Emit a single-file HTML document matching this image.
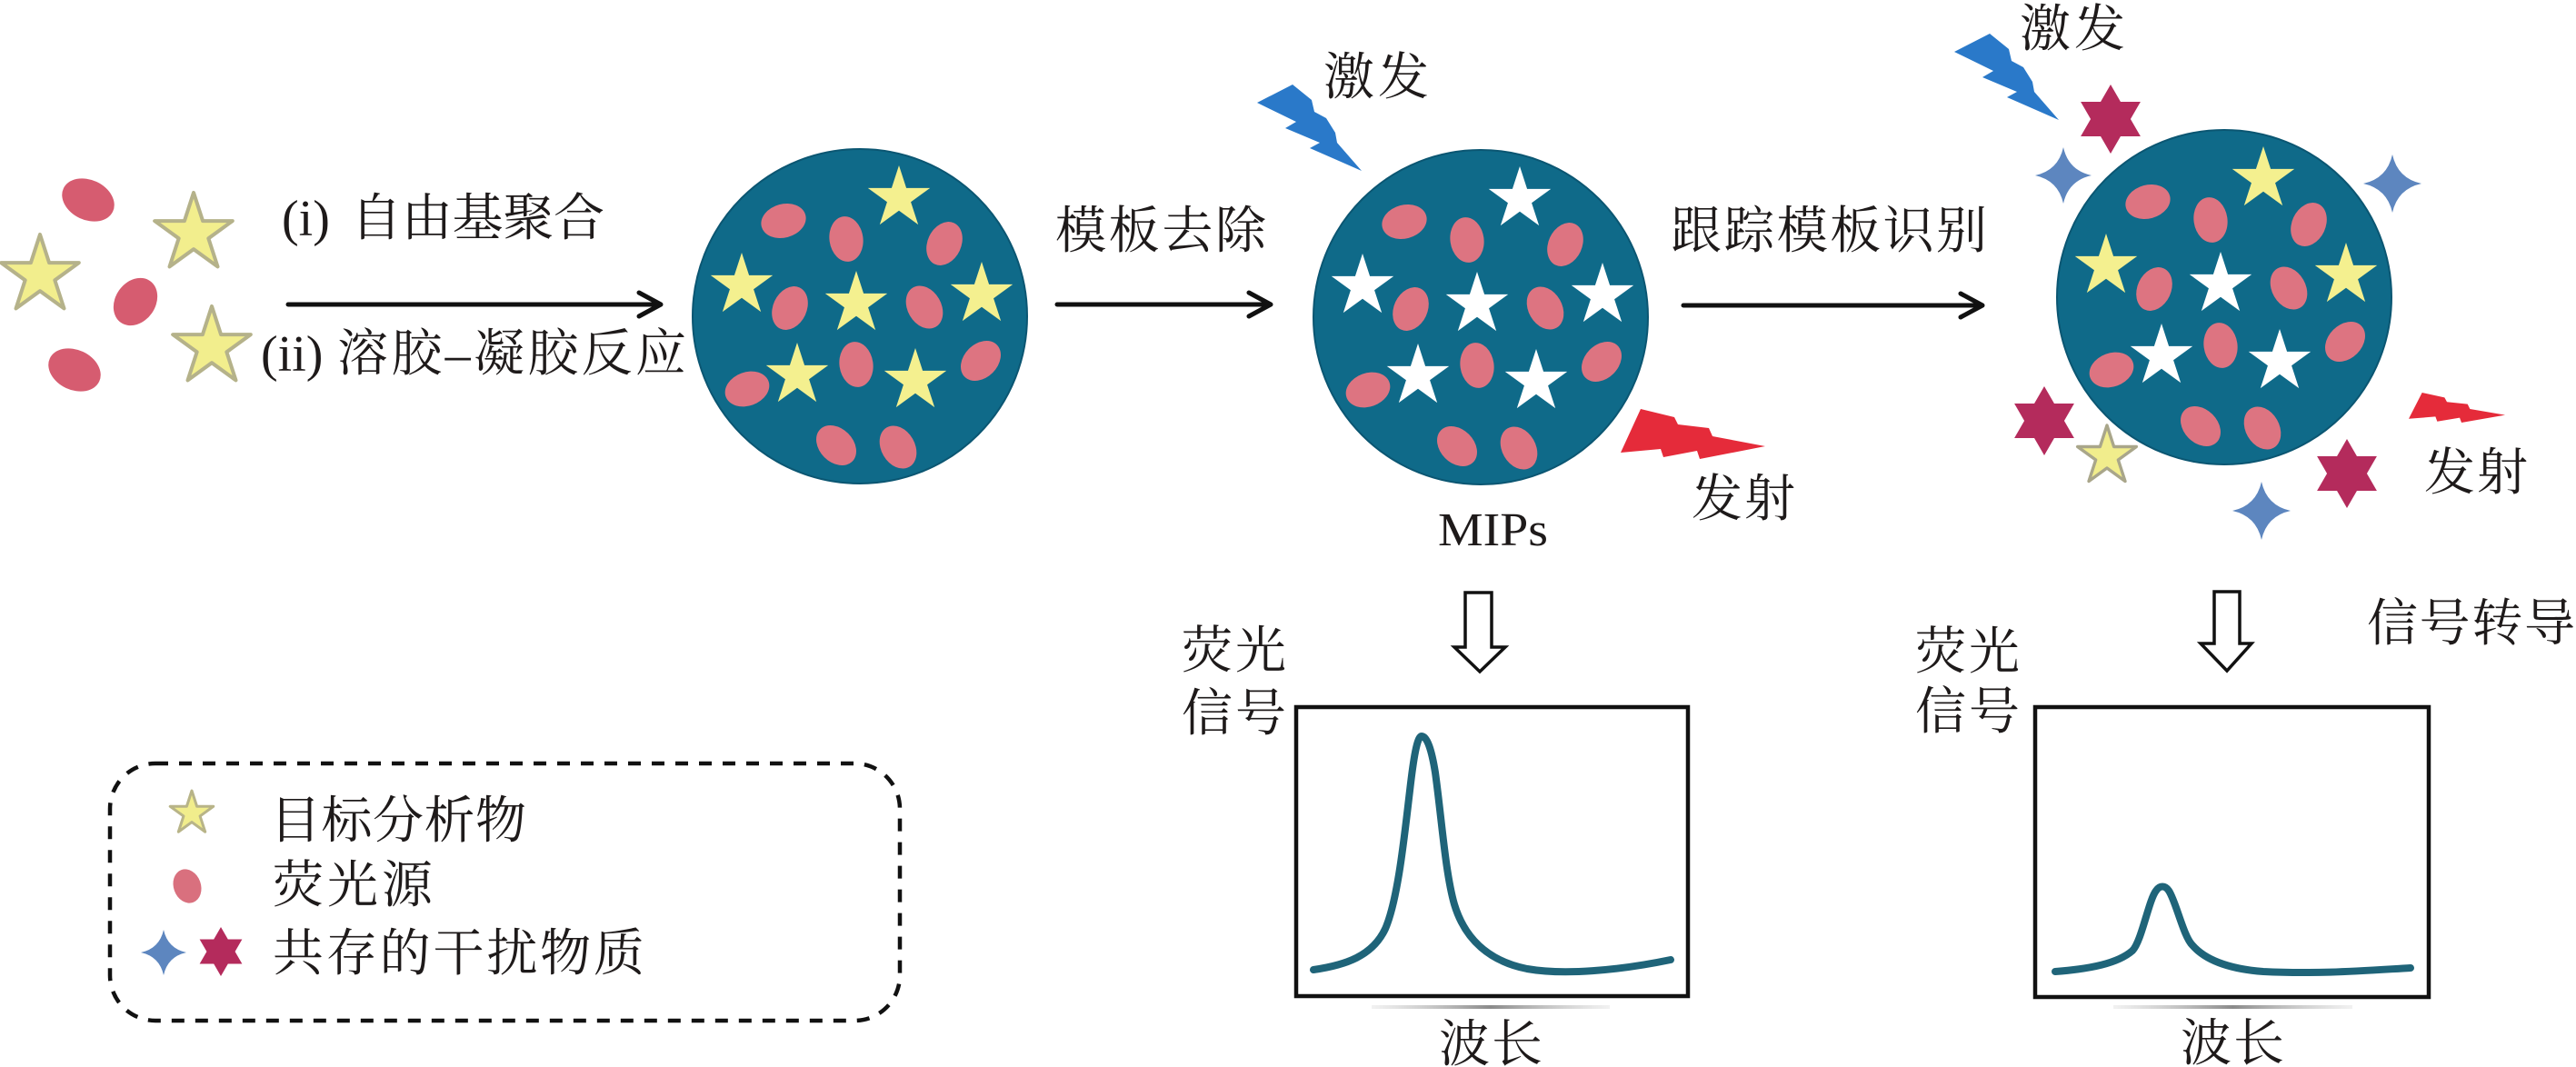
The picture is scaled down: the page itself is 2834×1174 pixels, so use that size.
<!DOCTYPE html>
<html>
<head>
<meta charset="utf-8">
<style>
  html, body { margin: 0; padding: 0; background: #ffffff; }
  body { width: 2834px; height: 1174px; overflow: hidden; }
  svg { display: block; }
  .t { font-family: "Liberation Serif", "Noto Serif CJK SC", serif; font-size: 56px; fill: #1e1a1a; }
</style>
</head>
<body>
<svg width="2834" height="1174" viewBox="0 0 2834 1174" xmlns="http://www.w3.org/2000/svg">
  <defs>
    <polygon id="st" points="0,-1 0.2245,-0.309 0.951,-0.309 0.363,0.118 0.588,0.809 0,0.382 -0.588,0.809 -0.363,0.118 -0.951,-0.309 -0.2245,-0.309"/>
    <polygon id="hx" points="0,-1 0.2887,-0.5 0.866,-0.5 0.577,0 0.866,0.5 0.2887,0.5 0,1 -0.2887,0.5 -0.866,0.5 -0.577,0 -0.866,-0.5 -0.2887,-0.5"/>
    <path id="dm" d="M0,-1 Q0.18,-0.18 1,0 Q0.18,0.18 0,1 Q-0.18,0.18 -1,0 Q-0.18,-0.18 0,-1Z"/>
    <g id="ells" fill="#dd7481">
      <ellipse cx="862" cy="243" rx="18.5" ry="25" transform="rotate(75 862 243)"/>
      <ellipse cx="931" cy="263" rx="18.5" ry="25" transform="rotate(-8 931 263)"/>
      <ellipse cx="1039" cy="268" rx="18.5" ry="25" transform="rotate(25 1039 268)"/>
      <ellipse cx="869" cy="339" rx="18.5" ry="25" transform="rotate(25 869 339)"/>
      <ellipse cx="1017" cy="338" rx="18.5" ry="25" transform="rotate(-30 1017 338)"/>
      <ellipse cx="942" cy="401" rx="18.5" ry="25" transform="rotate(-8 942 401)"/>
      <ellipse cx="1079" cy="397" rx="18.5" ry="25" transform="rotate(45 1079 397)"/>
      <ellipse cx="822" cy="428" rx="18.5" ry="25" transform="rotate(70 822 428)"/>
      <ellipse cx="920" cy="490" rx="18.5" ry="25" transform="rotate(-45 920 490)"/>
      <ellipse cx="988" cy="492" rx="18.5" ry="25" transform="rotate(-30 988 492)"/>
    </g>
    <polygon id="bbolt" points="1383,113 1422,93 1443,110 1446,123 1459,130 1469,146 1471,157 1498,188 1441,163 1452,157 1414,141 1426,134"/>
    <polygon id="rbolt" points="1783,498 1805,450 1842,459 1846,467 1880,471 1884,480 1942,491 1870,505 1867,496 1830,503 1827,494"/>
    <linearGradient id="gl" x1="0" y1="0" x2="1" y2="0">
      <stop offset="0" stop-color="#bbbbbb" stop-opacity="0.2"/>
      <stop offset="0.5" stop-color="#8a8a8a" stop-opacity="1"/>
      <stop offset="1" stop-color="#bbbbbb" stop-opacity="0.2"/>
    </linearGradient>
  </defs>

  <!-- Left loose items -->
  <g fill="#d65c70">
    <ellipse cx="97" cy="220" rx="22" ry="30" transform="rotate(-65 97 220)"/>
    <ellipse cx="149" cy="332" rx="22" ry="28" transform="rotate(35 149 332)"/>
    <ellipse cx="82" cy="407" rx="22" ry="30" transform="rotate(-65 82 407)"/>
  </g>
  <g fill="#f2ee8d" stroke="#b5b28a" stroke-width="0.09" stroke-linejoin="round">
    <use href="#st" transform="translate(213,257) scale(45)"/>
    <use href="#st" transform="translate(44,303) scale(45)"/>
    <use href="#st" transform="translate(233,382) scale(45)"/>
  </g>

  <!-- Texts top-left -->
  <text class="t" x="310" y="259">(i)</text>
  <text class="t" x="386" y="259" textLength="279" lengthAdjust="spacing">自由基聚合</text>
  <text class="t" x="287" y="408">(ii)</text>
  <text class="t" x="371" y="408" textLength="384" lengthAdjust="spacing">溶胶–凝胶反应</text>

  <!-- Arrows -->
  <g stroke="#111" stroke-width="5" fill="none" stroke-linecap="round" stroke-linejoin="round">
    <line x1="317" y1="335" x2="725" y2="335"/>
    <polyline points="703,322 727,335 703,348"/>
    <line x1="1163" y1="335" x2="1396" y2="335"/>
    <polyline points="1374,322 1398,335 1374,348"/>
    <line x1="1852" y1="336" x2="2179" y2="336"/>
    <polyline points="2157,323 2181,336 2157,349"/>
  </g>

  <!-- Circle 1 -->
  <g>
    <circle cx="946" cy="348" r="184" fill="#0f6a89" stroke="#0b5672" stroke-width="2"/>
    <use href="#ells"/>
    <g fill="#f4f08f">
      <use href="#st" transform="translate(989,218) scale(36)"/>
      <use href="#st" transform="translate(816,314) scale(36)"/>
      <use href="#st" transform="translate(942,334) scale(36)"/>
      <use href="#st" transform="translate(1080,324) scale(36)"/>
      <use href="#st" transform="translate(877,413) scale(36)"/>
      <use href="#st" transform="translate(1007,419) scale(36)"/>
    </g>
  </g>

  <!-- Circle 2 -->
  <g transform="translate(683,1)">
    <circle cx="946" cy="348" r="184" fill="#0f6a89" stroke="#0b5672" stroke-width="2"/>
    <use href="#ells"/>
    <g fill="#ffffff">
      <use href="#st" transform="translate(989,218) scale(36)"/>
      <use href="#st" transform="translate(816,314) scale(36)"/>
      <use href="#st" transform="translate(942,334) scale(36)"/>
      <use href="#st" transform="translate(1080,324) scale(36)"/>
      <use href="#st" transform="translate(877,413) scale(36)"/>
      <use href="#st" transform="translate(1007,419) scale(36)"/>
    </g>
  </g>

  <!-- Circle 3 -->
  <g transform="translate(1501,-21)">
    <circle cx="946" cy="348" r="184" fill="#0f6a89" stroke="#0b5672" stroke-width="2"/>
    <use href="#ells"/>
    <g fill="#f4f08f">
      <use href="#st" transform="translate(989,218) scale(36)"/>
      <use href="#st" transform="translate(816,314) scale(36)"/>
      <use href="#st" transform="translate(1080,324) scale(36)"/>
    </g>
    <g fill="#ffffff">
      <use href="#st" transform="translate(942,334) scale(36)"/>
      <use href="#st" transform="translate(877,413) scale(36)"/>
      <use href="#st" transform="translate(1007,419) scale(36)"/>
    </g>
  </g>

  <!-- Interferents around circle 3 -->
  <g fill="#b42b5c">
    <use href="#hx" transform="translate(2322,131) scale(38)"/>
    <use href="#hx" transform="translate(2249,463) scale(38)"/>
    <use href="#hx" transform="translate(2582,521) scale(38)"/>
  </g>
  <g fill="#5d86bf">
    <use href="#dm" transform="translate(2270,193) scale(31)"/>
    <use href="#dm" transform="translate(2632,202) scale(32)"/>
    <use href="#dm" transform="translate(2488,562) scale(32)"/>
  </g>
  <use href="#st" transform="translate(2318,502) scale(34)" fill="#f1ed8c" stroke="#a9a68a" stroke-width="0.1" stroke-linejoin="round"/>

  <!-- Lightning bolts -->
  <use href="#bbolt" fill="#2a79c9"/>
  <use href="#bbolt" fill="#2a79c9" transform="translate(767,-56)"/>
  <use href="#rbolt" fill="#e52b3a"/>
  <use href="#rbolt" fill="#e52b3a" transform="translate(2650,432) scale(0.667,0.6) translate(-1783,-450)"/>

  <!-- Labels near circles -->
  <text class="t" x="1161" y="273" textLength="232" lengthAdjust="spacing">模板去除</text>
  <text class="t" x="1838" y="273" textLength="348" lengthAdjust="spacing">跟踪模板识别</text>
  <text class="t" x="1456" y="104" textLength="116" lengthAdjust="spacing">激发</text>
  <text class="t" x="2222" y="51" textLength="116" lengthAdjust="spacing">激发</text>
  <text class="t" x="1861" y="568" textLength="114" lengthAdjust="spacing">发射</text>
  <text class="t" x="2667" y="539" textLength="114" lengthAdjust="spacing">发射</text>
  <text class="t" x="1582" y="600" style="font-size:52px" textLength="121" lengthAdjust="spacingAndGlyphs">MIPs</text>
  <text class="t" x="2604" y="705" textLength="229" lengthAdjust="spacing">信号转导</text>

  <!-- Hollow down arrows -->
  <g fill="#ffffff" stroke="#111" stroke-width="3.5" stroke-linejoin="miter">
    <polygon points="1612,652 1641,652 1641,712 1656,712 1628,739 1600,712 1612,712"/>
    <polygon points="2436,651 2464,651 2464,708 2477,708 2450,738 2421,708 2436,708"/>
  </g>

  <!-- Axis labels -->
  <text class="t" x="1300" y="735" textLength="115" lengthAdjust="spacing">荧光</text>
  <text class="t" x="1300" y="804" textLength="115" lengthAdjust="spacing">信号</text>
  <text class="t" x="2107" y="736" textLength="115" lengthAdjust="spacing">荧光</text>
  <text class="t" x="2107" y="802" textLength="115" lengthAdjust="spacing">信号</text>

  <!-- Plot boxes -->
  <g fill="none" stroke="#111" stroke-width="4.5">
    <rect x="1426" y="778" width="431" height="318"/>
    <rect x="2239" y="778" width="433" height="319"/>
  </g>
  <g fill="none" stroke="#1f6479" stroke-width="8" stroke-linecap="round" stroke-linejoin="round">
    <path d="M1445,1067 C1480,1062 1510,1052 1524,1022 C1538,990 1545,920 1551,870 C1555,835 1559,810 1564,810 C1570,810 1575,825 1579,850 C1586,900 1590,960 1600,995 C1612,1035 1640,1058 1680,1066 C1720,1073 1780,1068 1838,1056"/>
    <path d="M2261,1069 C2300,1066 2330,1060 2346,1046 C2356,1036 2364,990 2372,980 C2376,974 2382,974 2386,980 C2394,992 2402,1030 2412,1040 C2425,1055 2450,1066 2490,1069 C2550,1072 2600,1068 2652,1065"/>
  </g>
  <rect x="1509" y="1106" width="262" height="4" fill="url(#gl)"/>
  <rect x="2325" y="1106" width="263" height="4" fill="url(#gl)"/>
  <text class="t" x="1583" y="1168" textLength="114" lengthAdjust="spacing">波长</text>
  <text class="t" x="2399" y="1167" textLength="114" lengthAdjust="spacing">波长</text>

  <!-- Legend -->
  <rect x="121" y="840" width="869" height="283" rx="50" ry="50" fill="none" stroke="#111" stroke-width="4.5" stroke-dasharray="14 12"/>
  <use href="#st" transform="translate(211,895) scale(25)" fill="#f1ed8c" stroke="#b8b488" stroke-width="0.12" stroke-linejoin="round"/>
  <ellipse cx="206" cy="975" rx="15" ry="19" transform="rotate(-20 206 975)" fill="#d9707e"/>
  <use href="#dm" transform="translate(180,1048) scale(25)" fill="#5d86bf"/>
  <use href="#hx" transform="translate(243,1047) scale(27)" fill="#b42b5c"/>
  <text class="t" x="297" y="922" textLength="282" lengthAdjust="spacing">目标分析物</text>
  <text class="t" x="300" y="993" textLength="176" lengthAdjust="spacing">荧光源</text>
  <text class="t" x="300" y="1068" textLength="409" lengthAdjust="spacing">共存的干扰物质</text>
</svg>
</body>
</html>
